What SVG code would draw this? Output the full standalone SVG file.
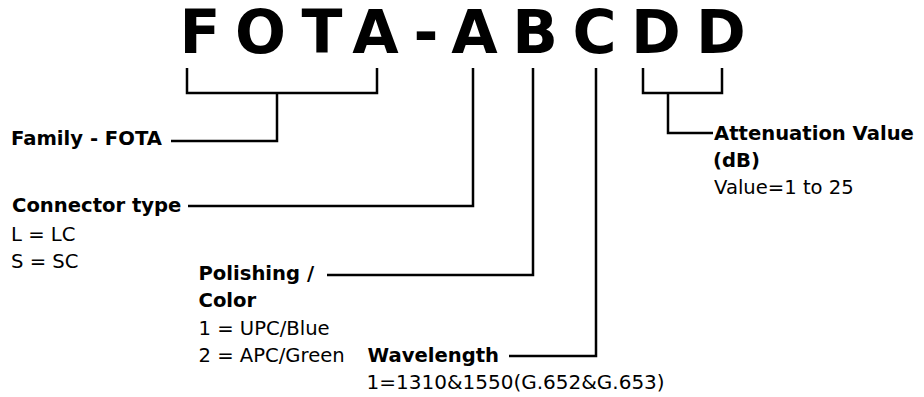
<svg xmlns="http://www.w3.org/2000/svg" width="924" height="397" viewBox="0 0 924 397">
  <style>
    .code { font-family: "DejaVu Sans", "Liberation Sans", sans-serif; font-weight: bold; font-size: 60px; fill: #000; text-anchor: middle; }
    .h { font-family: "DejaVu Sans", "Liberation Sans", sans-serif; font-weight: bold; font-size: 19.6px; fill: #000; }
    .t { font-family: "DejaVu Sans", "Liberation Sans", sans-serif; font-size: 19.6px; fill: #000; }
    .ln { fill: none; stroke: #000; stroke-width: 2.5; stroke-linejoin: miter; stroke-linecap: butt; }
  </style>
  <rect width="924" height="397" fill="#fff"/>
  <g id="code">
    <text class="code" x="200" y="53">F</text>
    <text class="code" x="260.5" y="53">O</text>
    <text class="code" x="322" y="53">T</text>
    <text class="code" x="375.5" y="53">A</text>
    <text class="code" x="426" y="53">-</text>
    <text class="code" x="474.5" y="53">A</text>
    <text class="code" x="535" y="53">B</text>
    <text class="code" x="594.5" y="53">C</text>
    <text class="code" x="656" y="53">D</text>
    <text class="code" x="721" y="53">D</text>
  </g>
  <g id="connectors">
    <path class="ln" d="M187,68 V93 H377 V68"/>
    <path class="ln" d="M277,93 V141 H171"/>
    <path class="ln" d="M473,68 V206 H188"/>
    <path class="ln" d="M533,68 V275 H327"/>
    <path class="ln" d="M596,68 V356 H509"/>
    <path class="ln" d="M643,68 V93 H722 V68"/>
    <path class="ln" d="M668,93 V133 H713"/>
  </g>
  <g id="family">
    <text class="h" x="11" y="145">Family - FOTA</text>
  </g>
  <g id="connector-type">
    <text class="h" x="12" y="212">Connector type</text>
    <text class="t" x="11" y="240.5">L = LC</text>
    <text class="t" x="11" y="267.5">S = SC</text>
  </g>
  <g id="polishing">
    <text class="h" x="198.5" y="280">Polishing /</text>
    <text class="h" x="198.5" y="307">Color</text>
    <text class="t" x="198.5" y="334.5">1 = UPC/Blue</text>
    <text class="t" x="198.5" y="361.5">2 = APC/Green</text>
  </g>
  <g id="wavelength">
    <text class="h" x="367.5" y="361.5">Wavelength</text>
    <text class="t" x="366.5" y="388.5" style="font-size:20px">1=1310&amp;1550(G.652&amp;G.653)</text>
  </g>
  <g id="attenuation">
    <text class="h" x="714" y="139.5">Attenuation Value</text>
    <text class="h" x="713" y="166.5">(dB)</text>
    <text class="t" x="714" y="193.5">Value=1 to 25</text>
  </g>
</svg>
